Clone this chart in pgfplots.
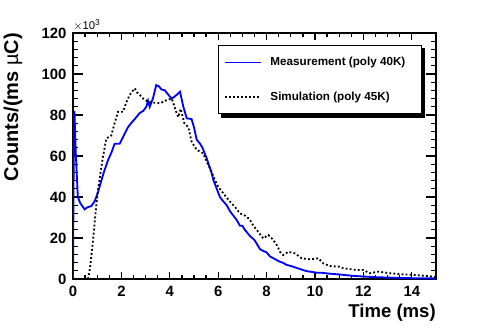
\documentclass[border=0pt]{standalone}
\usepackage{fontspec}
\setmainfont{Liberation Sans}
\usepackage{pgfplots}
\pgfplotsset{compat=1.18}

% one reference pixel = 0.25mm
\begin{document}
\begin{tikzpicture}
\path[use as bounding box] (0,0) rectangle (121.25mm,82.25mm);
\begin{axis}[
  name=ax,
  at={(18.25mm,12.5mm)}, anchor=south west,
  scale only axis, width=90.75mm, height=61.5mm,
  xmin=0, xmax=15, ymin=0, ymax=120,
  xtick={0,2,...,14}, minor x tick num=3,
  ytick={0,20,...,120}, minor y tick num=4,
  tick align=inside,
  x tick style={/pgfplots/major tick length=1.8mm, /pgfplots/minor tick length=1mm},
  y tick style={/pgfplots/major tick length=2.5mm, /pgfplots/minor tick length=1.3mm},
  every tick/.style={black, line width=0.9pt},
  axis line style={line width=1.3pt},
  /pgf/number format/assume math mode=true,
  ticklabel style={font=\fontsize{10.6}{12}\selectfont\bfseries},
  xticklabel style={yshift=-0.6mm},
  yticklabel style={xshift=-0.4mm},
  legend cell align=left,
  legend style={name=leg, at={(0.961,0.951)}, anchor=north east,
    draw=black, line width=0.7pt, fill=white,
    font=\fontsize{8.3}{10}\selectfont\bfseries,
    inner xsep=1.5mm, inner ysep=2.2mm, row sep=4.6mm},
  legend image code/.code={\draw[#1, line width=1pt] (0mm,0mm) -- (9mm,0mm);
    \path (10.5mm,0mm);},
]
\addplot[blue, line width=1.3pt] coordinates {
(0,0) (0.03,60) (0.06,82) (0.12,60) (0.2,40) (0.3,37) (0.48,34) (0.6,35)
(0.76,35.6) (0.9,38) (1.05,43) (1.17,48) (1.3,53) (1.45,58) (1.6,62) (1.72,66)
(1.93,66) (2.1,70) (2.27,74) (2.4,76) (2.55,78) (2.76,81) (2.9,82) (3.03,84)
(3.1,87) (3.17,84) (3.3,88) (3.44,94.6) (3.55,94) (3.65,92.5) (3.8,92) (3.93,90)
(4.08,88) (4.2,89) (4.3,90) (4.42,91.4) (4.56,84) (4.7,78.4) (4.9,78) (5.0,74)
(5.11,68) (5.25,66) (5.35,64) (5.52,59) (5.73,51.6) (5.8,48.3) (6.07,40) (6.2,38)
(6.35,36) (6.49,33) (6.62,31) (6.75,29) (6.9,26) (7.0,26) (7.1,24) (7.31,21)
(7.5,19) (7.73,14.5) (7.9,13.5) (8.0,13) (8.14,11) (8.3,10) (8.55,8.4) (8.7,7.8)
(8.8,7) (9.1,6) (9.3,5.2) (9.5,4.4) (9.66,3.8) (9.9,3.4) (10.07,3.1) (10.3,3.0)
(10.6,2.6) (11.03,2.2) (11.5,1.6) (12,1.2) (12.5,0.9) (13,0.7) (13.5,0.5)
(14,0.4) (14.5,0.3) (15,0.3)};
\addlegendentry{Measurement (poly 40K)\hspace*{1.8mm}}
\addplot[black, line width=1.3pt, dash pattern=on 1.3pt off 1.6pt] coordinates {
(0.62,0) (0.7,5) (0.83,19) (0.93,32) (1.03,43) (1.15,53) (1.24,59.7) (1.38,68.6)
(1.58,70) (1.72,76) (1.86,81.6) (2.07,81.6) (2.2,86) (2.34,89.8) (2.55,93)
(2.65,91) (2.76,89.8) (2.9,88) (3.1,86.5) (3.3,86) (3.44,86) (3.6,85.7)
(3.87,87.3) (4.08,88) (4.25,82) (4.35,79) (4.45,83) (4.6,76) (4.77,74) (4.9,67)
(5.11,63) (5.38,61.3) (5.59,55.6) (5.73,52.3) (5.8,50) (6.0,45) (6.21,41.8)
(6.49,37.7) (6.7,35) (6.9,32) (7.1,31) (7.31,29) (7.45,26) (7.59,24) (7.86,19.8)
(8.07,21.5) (8.28,19) (8.45,16) (8.55,13.3) (8.69,11.7) (8.9,13.3) (9.17,12.5)
(9.45,10.1) (9.79,9.6) (10.14,10.1) (10.34,7.6) (10.62,6.3) (11.03,6) (11.17,5.2)
(11.72,4.4) (12,4.4) (12.27,2.8) (12.62,3.6) (13.1,2.8) (13.58,2.3) (14.06,2)
(14.6,1.5) (14.9,1.1) (15,1)};
\addlegendentry{Simulation (poly 45K)}
\end{axis}
% legend shadow, ROOT style
\fill[black] ([yshift=-0.8mm]leg.north east) rectangle ([xshift=0.8mm]leg.south east);
\fill[black] ([xshift=0.8mm]leg.south west) rectangle ([xshift=0.8mm,yshift=-0.8mm]leg.south east);
\node[anchor=south west, inner sep=0pt, font=\fontsize{8}{9}\selectfont]
  at ([yshift=0.6mm]ax.north west) {$\times$10\textsuperscript{3}};
\node[rotate=90, anchor=east, inner sep=0pt, font=\fontsize{14.2}{16}\selectfont\bfseries]
  at ([xshift=-15mm]ax.north west) {Counts/(ms {\mdseries\textmu}C)};
\node[anchor=base east, inner sep=0pt, font=\fontsize{13.2}{15}\selectfont\bfseries]
  at ([yshift=-9.5mm]ax.south east) {Time (ms)};
\end{tikzpicture}
\end{document}
